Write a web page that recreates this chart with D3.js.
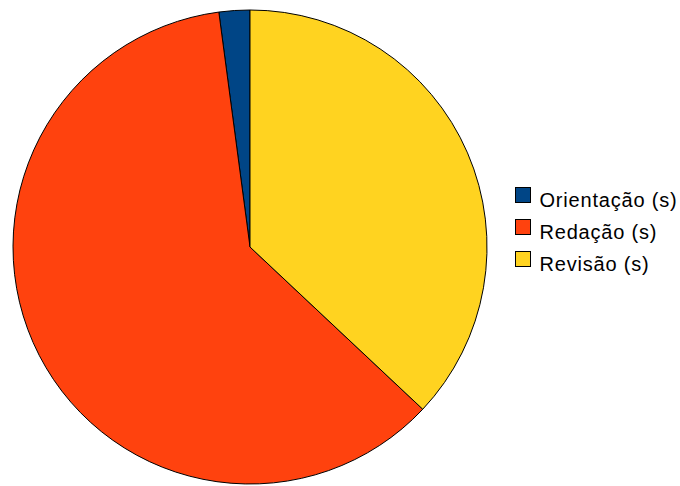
<!DOCTYPE html>
<html>
<head>
<meta charset="utf-8">
<script src="https://cdn.jsdelivr.net/npm/d3@7"></script>
<style>
  html, body { margin: 0; padding: 0; background: #fff; }
  svg { display: block; }
</style>
</head>
<body>
<svg id="chart" width="680" height="486"></svg>
<script>
// Time spent per writing stage (share of total, seconds)
const categories = ["Orientação (s)", "Redação (s)", "Revisão (s)"];
const values = [2.1, 60.9, 37.0];
const colors = ["#004586", "#ff420e", "#ffd320"];

const svg = d3.select("#chart");
const cx = 250, cy = 247, radius = 237;

// Slices run counter-clockwise from 12 o'clock
const pie = d3.pie()
  .sort(null)
  .value(d => d.value)
  .startAngle(0)
  .endAngle(-2 * Math.PI);

const arc = d3.arc().innerRadius(0).outerRadius(radius);

const data = categories.map((c, i) => ({ name: c, value: values[i], color: colors[i] }));

svg.append("g")
  .attr("transform", `translate(${cx},${cy})`)
  .selectAll("path")
  .data(pie(data))
  .join("path")
  .attr("d", arc)
  .attr("fill", d => d.data.color)
  .attr("stroke", "#000")
  .attr("stroke-width", 1)
  .attr("stroke-linejoin", "round");

// Legend
const legend = svg.append("g").attr("transform", "translate(515,187)");
const rowH = 32;
const items = legend.selectAll("g")
  .data(data)
  .join("g")
  .attr("transform", (d, i) => `translate(0,${i * rowH})`);

items.append("rect")
  .attr("x", 0.5).attr("y", 0.5)
  .attr("width", 15).attr("height", 15)
  .attr("fill", d => d.color)
  .attr("stroke", "#000")
  .attr("stroke-width", 1);

items.append("text")
  .attr("x", 24.5)
  .attr("y", 19.5)
  .attr("font-family", "'Liberation Sans', Arial, sans-serif")
  .attr("font-size", 20)
  .attr("letter-spacing", 0.8)
  .attr("fill", "#000")
  .text(d => d.name);
</script>
</body>
</html>
